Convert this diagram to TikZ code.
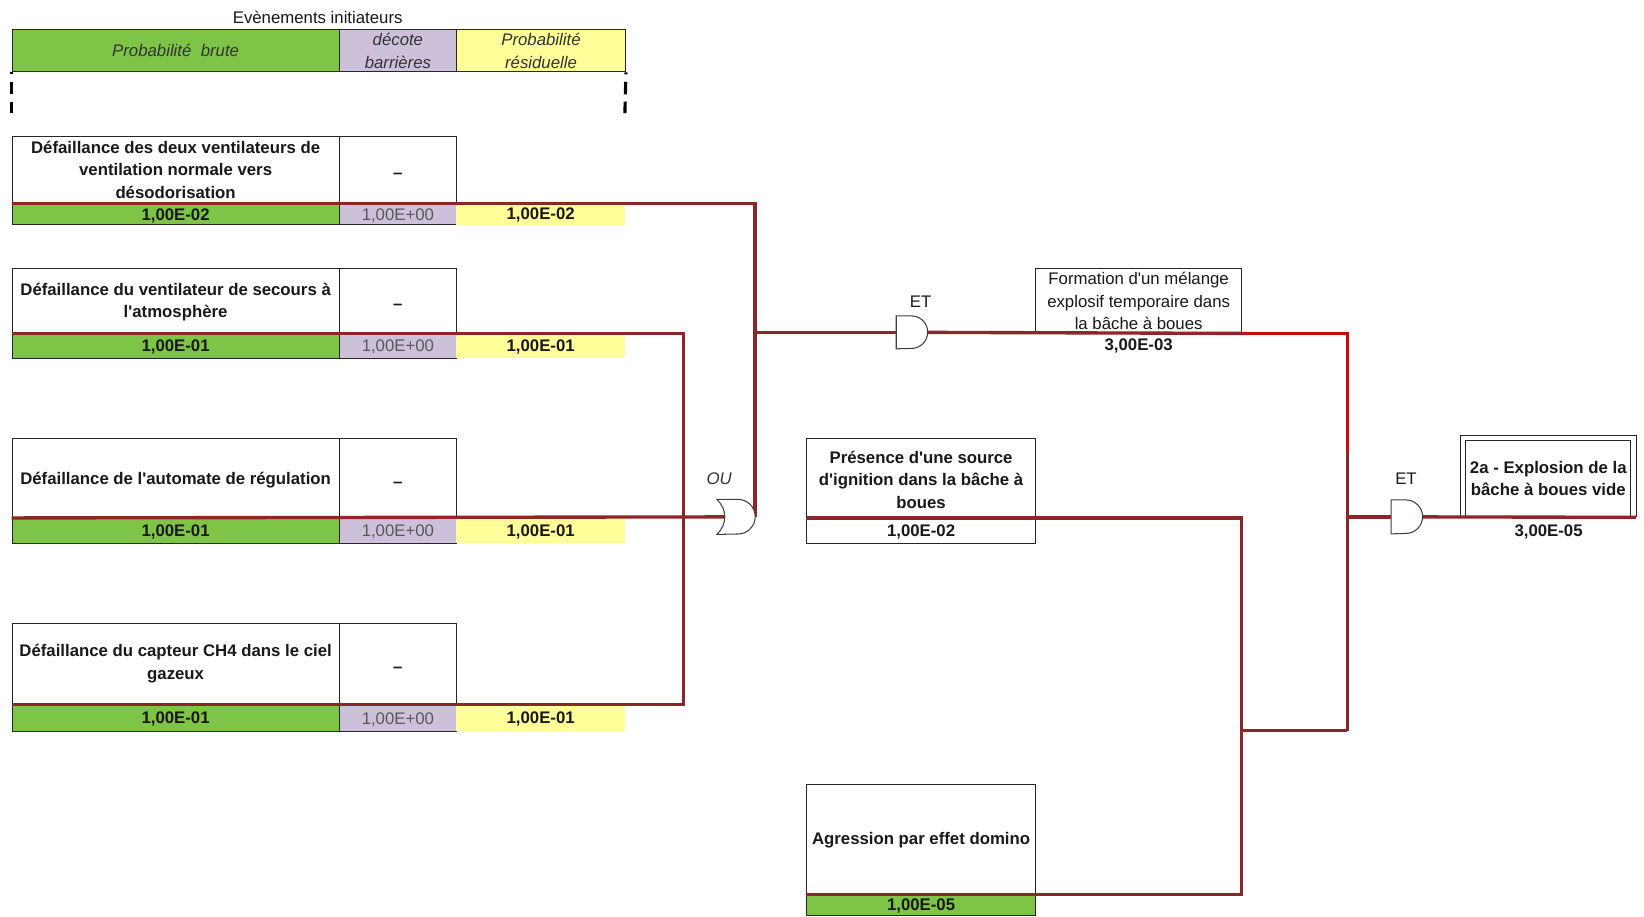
\documentclass[tikz,border=0pt]{standalone}
\usepackage{fontspec}
\setmainfont{Liberation Sans}[Ligatures=TeXOff]
\usetikzlibrary{calc}
\newcommand\fsz{\fontsize{16}{21.5}\selectfont}
\definecolor{wirered}{RGB}{140,38,40}
\definecolor{brightred}{RGB}{200,10,10}
\definecolor{pgreen}{RGB}{126,196,70}
\definecolor{ppurple}{RGB}{204,192,218}
\definecolor{pyellow}{RGB}{255,255,153}
\begin{document}
\begin{tikzpicture}[x=1pt,y=-1pt,
  cell/.style={draw=black!85, line width=1pt, inner sep=0pt, anchor=north west},
  nobox/.style={inner sep=0pt, anchor=north west},
  btxt/.style={font=\fsz\bfseries, align=center, inner sep=0pt, text=black!90},
  rtxt/.style={font=\fsz, align=center, inner sep=0pt, text=black!90},
  itxt/.style={font=\fsz\itshape, align=center, inner sep=0pt, text=black!80},
  gtxt/.style={font=\fsz, inner sep=0pt, text=black!65},
  wire/.style={draw=wirered, line width=3.2pt},
  gatebox/.style={inner sep=0pt},
  gateshape/.style={draw=black!75, line width=1pt, fill=white},
  dashv/.style={line width=3pt, dash pattern=on 2pt off 7pt on 12pt off 7pt on 12pt off 7pt}]
\fill[white] (0,0) rectangle (1568,874);
\useasboundingbox (0,0) rectangle (1568,874);

% header
\node[rtxt] (hdr) at (303,17) {Evènements initiateurs};
\node[cell, fill=pgreen, minimum width=312pt, minimum height=40pt] (hg) at (11,28) {};
\node[cell, fill=ppurple, minimum width=112pt, minimum height=40pt] (hp) at (323,28) {};
\node[cell, fill=pyellow, minimum width=161pt, minimum height=40pt] (hy) at (435,28) {};
\node[itxt] (hgl) at (hg) {Probabilité~ brute};
\node[itxt] (hpl) at (hp) {décote\\barrières};
\node[itxt] (hyl) at (hy) {Probabilité\\résiduelle};
\coordinate (d1) at (11,108);
\coordinate (d2) at (596,108);
\draw[dashv] (hg.south west) -- (d1);
\draw[dashv] (hy.south east) -- (d2);

% event 1
\node[cell, minimum width=312pt, minimum height=63pt] (e1t) at (11,130) {};
\node[cell, minimum width=112pt, minimum height=63pt] (e1d) at (323,130) {};
\node[cell, fill=pgreen, minimum width=312pt, minimum height=21pt] (e1g) at (11,193) {};
\node[cell, fill=ppurple, minimum width=112pt, minimum height=21pt] (e1p) at (323,193) {};
\node[nobox, fill=pyellow, minimum width=161pt, minimum height=21pt] (e1y) at (435,193) {};
\node[btxt] (e1tl) at (e1t) {Défaillance des deux ventilateurs de\\ventilation normale vers\\désodorisation};
\node[btxt] (e1dl) at ([yshift=-6pt]e1d.center) {–};
\node[btxt] (e1gl) at ([yshift=-1.5pt]e1g.center) {1,00E-02};
\node[gtxt] (e1pl) at ([yshift=-1.5pt]e1p.center) {1,00E+00};
\node[btxt] (e1yl) at ([yshift=-1.5pt]e1y.center) {1,00E-02};

% event 2
\node[cell, minimum width=312pt, minimum height=61pt] (e2t) at (11,256) {};
\node[cell, minimum width=112pt, minimum height=61pt] (e2d) at (323,256) {};
\node[cell, fill=pgreen, minimum width=312pt, minimum height=24pt] (e2g) at (11,317) {};
\node[cell, fill=ppurple, minimum width=112pt, minimum height=24pt] (e2p) at (323,317) {};
\node[nobox, fill=pyellow, minimum width=161pt, minimum height=24pt] (e2y) at (435,317) {};
\node[btxt] (e2tl) at ([yshift=-1pt]e2t.center) {Défaillance du ventilateur de secours à\\l'atmosphère};
\node[btxt] (e2dl) at ([yshift=-6pt]e2d.center) {–};
\node[btxt] (e2gl) at ([yshift=-1.5pt]e2g.center) {1,00E-01};
\node[gtxt] (e2pl) at ([yshift=-1.5pt]e2p.center) {1,00E+00};
\node[btxt] (e2yl) at ([yshift=-1.5pt]e2y.center) {1,00E-01};

% event 3
\node[cell, minimum width=312pt, minimum height=75pt] (e3t) at (11,418) {};
\node[cell, minimum width=112pt, minimum height=75pt] (e3d) at (323,418) {};
\node[cell, fill=pgreen, minimum width=312pt, minimum height=25pt] (e3g) at (11,493) {};
\node[cell, fill=ppurple, minimum width=112pt, minimum height=25pt] (e3p) at (323,493) {};
\node[nobox, fill=pyellow, minimum width=161pt, minimum height=25pt] (e3y) at (435,493) {};
\node[btxt] (e3tl) at ([yshift=-2pt]e3t.center) {Défaillance de l'automate de régulation};
\node[btxt] (e3dl) at ([yshift=-6pt]e3d.center) {–};
\node[btxt] (e3gl) at ([yshift=-1.5pt]e3g.center) {1,00E-01};
\node[gtxt] (e3pl) at ([yshift=-1.5pt]e3p.center) {1,00E+00};
\node[btxt] (e3yl) at ([yshift=-1.5pt]e3y.center) {1,00E-01};

% event 4
\node[cell, minimum width=312pt, minimum height=77pt] (e4t) at (11,594) {};
\node[cell, minimum width=112pt, minimum height=77pt] (e4d) at (323,594) {};
\node[cell, fill=pgreen, minimum width=312pt, minimum height=26pt] (e4g) at (11,671) {};
\node[cell, fill=ppurple, minimum width=112pt, minimum height=26pt] (e4p) at (323,671) {};
\node[nobox, fill=pyellow, minimum width=161pt, minimum height=26pt] (e4y) at (435,671) {};
\node[btxt] (e4tl) at (e4t) {Défaillance du capteur CH4 dans le ciel\\gazeux};
\node[btxt] (e4dl) at ([yshift=-6pt]e4d.center) {–};
\node[btxt] (e4gl) at ([yshift=-1.5pt]e4g.center) {1,00E-01};
\node[gtxt] (e4pl) at ([yshift=-1.5pt]e4p.center) {1,00E+00};
\node[btxt] (e4yl) at ([yshift=-1.5pt]e4y.center) {1,00E-01};

% intermediate and other events
\node[cell, minimum width=197pt, minimum height=61pt] (f) at (987,256) {};
\node[rtxt] (fl) at (f) {Formation d'un mélange\\explosif temporaire dans\\la bâche à boues};
\node[btxt] (fv) at (1086,330) {3,00E-03};

\node[cell, minimum width=218pt, minimum height=75pt] (pt) at (769,418) {};
\node[cell, fill=white, minimum width=218pt, minimum height=25pt] (pv) at (769,493) {};
\node[btxt] (ptl) at ([yshift=-1.5pt]pt.center) {Présence d'une source\\d'ignition dans la bâche à\\boues};
\node[btxt] (pvl) at ([yshift=-1.5pt]pv.center) {1,00E-02};

\node[cell, minimum width=218pt, minimum height=105pt] (at) at (769,748) {};
\node[cell, fill=pgreen, minimum width=218pt, minimum height=20pt] (av) at (769,853) {};
\node[btxt] (atl) at (at) {Agression par effet domino};
\node[btxt] (avl) at ([yshift=-1pt]av.center) {1,00E-05};

\node[nobox, minimum width=167pt, minimum height=78pt] (ft) at (1393,415) {};
\draw[black!85, line width=1pt] (ft.south west) -- (ft.north west) -- (ft.north east) -- (ft.south east);
\draw[black!85, line width=1pt] ($(ft.south west)+(5,0)$) -- ($(ft.north west)+(5,5)$) -- ($(ft.north east)+(-5,5)$) -- ($(ft.south east)+(-5,0)$);
\node[btxt] (ftl) at ([yshift=-2pt]ft.center) {2a - Explosion de la\\bâche à boues vide};
\node[btxt] (ftv) at (1477,507) {3,00E-05};

% gates
\node[gatebox, minimum width=36pt, minimum height=33pt] (g0) at (702,493) {};
\node[gatebox, minimum width=30pt, minimum height=31pt] (g1) at (870,317) {};
\node[gatebox, minimum width=30pt, minimum height=32pt] (g2) at (1342,493) {};
\node[itxt] (g0l) at (686,457) {OU};
\node[rtxt] (g1l) at (878,288) {ET};
\node[rtxt] (g2l) at (1341,457) {ET};

% junction coordinates
\coordinate (bus) at (652,493);
\coordinate (bus2) at (1285,493);
\coordinate (bus3) at (1184,697);
\coordinate (redend) at (1285,430);

% wires
\draw[wire] (e1t.south west) -- (e1t.south west -| g0.east) -- (g0.east);
\draw[wire] (e2t.south west) -| (bus) |- (e4t.south west);
\draw[wire] (e3t.south west) -- ($(g0.west)+(8,0)$);
\draw[wire] (g0.east |- g1.west) -- (g1.west);
\draw[wire] (g1.east) -- (f.south east);
\draw[wire] (redend) -- (bus2 |- bus3);
\draw[wire, draw=brightred] (f.south east) -| (redend);
\draw[wire] (bus2) -- (g2.west);
\draw[wire] (g2.east) -- (ft.south east);
\draw[wire] (pt.south west) -- (pt.south west -| bus3) -- (bus3 |- av.north west) -- (av.north west);
\draw[wire] (bus3) -- (bus2 |- bus3);

% gate shapes
\draw[gateshape] (g0.north west) -- ++(20,0) arc[start angle=90,end angle=-90,radius=16.5pt] -- (g0.south west) .. controls +(10,-10) and +(10,10) .. (g0.north west) -- cycle;
\draw[gateshape] (g1.north west) -- ++(14.5,0) arc[start angle=90,end angle=-90,radius=15.5pt] -- (g1.south west) -- cycle;
\draw[gateshape] (g2.north west) -- ++(14,0) arc[start angle=90,end angle=-90,radius=16pt] -- (g2.south west) -- cycle;
\end{tikzpicture}
\end{document}
